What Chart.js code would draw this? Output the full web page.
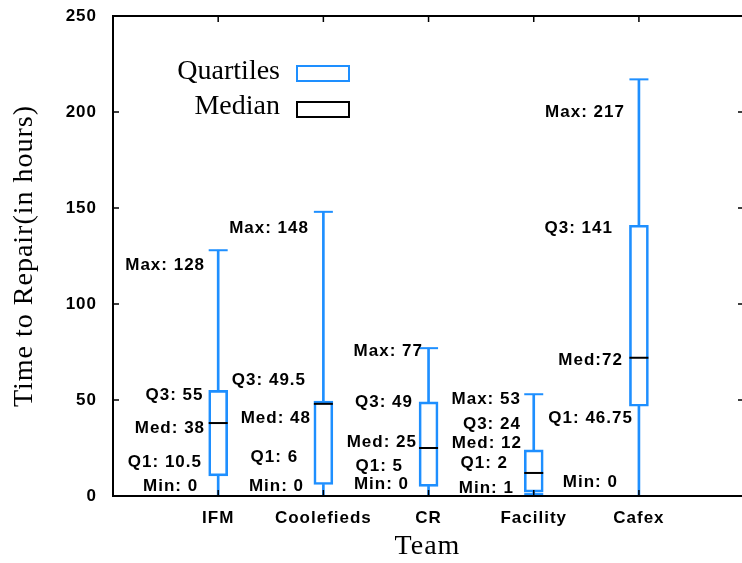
<!DOCTYPE html>
<html lang="en">
<head>
<meta charset="UTF-8">
<title>Time to Repair</title>
<style>
    body { margin: 0; background: #fff; }
    #box { width: 742px; height: 563px; }
</style>
</head>
<body>
<div id="box"><canvas id="myChart" width="742" height="563"></canvas></div>

<script src="https://cdn.jsdelivr.net/npm/chart.js"></script>
<script>
    // five-number summary per team (hours)
    const teams = ['IFM', 'Coolefieds', 'CR', 'Facility', 'Cafex'];
    const mins = [0, 0, 0, 1, 0];
    const q1s = [10.5, 6, 5, 2, 46.75];
    const medians = [38, 48, 25, 12, 72];
    const q3s = [55, 49.5, 49, 24, 141];
    const maxs = [128, 148, 77, 53, 217];
    const yTicks = [0, 50, 100, 150, 200, 250];

    // text notes, [text, x, y] in axis units (like gnuplot "set label at")
    const notes = [
        ['Max: 128', 0.875, 120.3], ['Q3: 55', 0.86, 52.3], ['Med: 38', 0.875, 35.4], ['Q1: 10.5', 0.846, 17.4], ['Min: 0', 0.81, 5.2],
        ['Max: 148', 1.863, 139.6], ['Q3: 49.5', 1.835, 60.4], ['Med: 48', 1.882, 40.6], ['Q1: 6', 1.76, 20.3], ['Min: 0', 1.816, 5.2],
        ['Max: 77', 2.947, 75.5], ['Q3: 49', 2.852, 49.0], ['Med: 25', 2.89, 28.1], ['Q1: 5', 2.757, 15.6], ['Min: 0', 2.814, 6.3],
        ['Max: 53', 3.878, 50.5], ['Q3: 24', 3.878, 37.5], ['Med: 12', 3.888, 27.6], ['Q1: 2', 3.755, 17.2], ['Min: 1', 3.812, 4.2],
        ['Max: 217', 4.867, 200], ['Q3: 141', 4.753, 139.6], ['Med:72', 4.848, 70.8], ['Q1: 46.75', 4.943, 40.6], ['Min: 0', 4.80, 7.3]
    ];

    const BLUE = '#1e8fff';
    const sansBold = { family: '"Liberation Sans", Arial, sans-serif', size: 17, weight: 'bold' };
    const serif = { family: '"Liberation Serif", "Times New Roman", serif', size: 28, weight: 'normal' };

    const boxData = teams.map((t, i) => ({ x: i + 1, y: [q1s[i], q3s[i]] }));
    const lowWhisker = teams.map((t, i) => ({ x: i + 1, y: [mins[i], q1s[i]] }));
    const highWhisker = teams.map((t, i) => ({ x: i + 1, y: [q3s[i], maxs[i]] }));
    const capData = teams.map((t, i) => ({ x: i + 1, y: maxs[i] }))
        .concat(teams.map((t, i) => ({ x: i + 1, y: mins[i] })));
    const medData = teams.map((t, i) => ({ x: i + 1, y: medians[i] }));

    // frame, inward ticks, notes and the key
    const gnuStyle = {
        id: 'gnuStyle',
        beforeDraw(chart) {
            chart.ctx.letterSpacing = '1px';
        },
        afterDatasetsDraw(chart) {
            const ctx = chart.ctx;
            const xs = chart.scales.x, ys = chart.scales.y;
            ctx.save();
            ctx.font = 'bold 17px "Liberation Sans", Arial, sans-serif';
            ctx.textAlign = 'right';
            ctx.textBaseline = 'middle';
            ctx.fillStyle = '#000';
            notes.forEach(n => {
                ctx.fillText(n[0], xs.getPixelForValue(n[1]), ys.getPixelForValue(n[2]));
            });
            ctx.restore();
        },
        afterDraw(chart) {
            const ctx = chart.ctx;
            const a = chart.chartArea;
            const xs = chart.scales.x, ys = chart.scales.y;
            ctx.save();
            ctx.strokeStyle = '#000';
            ctx.lineWidth = 2;
            ctx.beginPath();
            ctx.moveTo(a.right + 2, a.top);
            ctx.lineTo(a.left, a.top);
            ctx.lineTo(a.left, a.bottom);
            ctx.lineTo(a.right + 2, a.bottom);
            ctx.stroke();

            ctx.lineWidth = 1.5;
            ctx.beginPath();
            yTicks.forEach(v => {
                const py = ys.getPixelForValue(v);
                ctx.moveTo(a.left, py); ctx.lineTo(a.left + 6, py);
                ctx.moveTo(a.right, py); ctx.lineTo(a.right - 4, py);
            });
            teams.forEach((t, i) => {
                const px = xs.getPixelForValue(i + 1);
                ctx.moveTo(px, a.top); ctx.lineTo(px, a.top + 6);
                ctx.moveTo(px, a.bottom); ctx.lineTo(px, a.bottom - 6);
            });
            ctx.stroke();

            // key
            ctx.letterSpacing = '0px';
            ctx.font = '28px "Liberation Serif", "Times New Roman", serif';
            ctx.textAlign = 'right';
            ctx.textBaseline = 'middle';
            ctx.fillStyle = '#000';
            ctx.fillText('Quartiles', 280, 72);
            ctx.fillText('Median', 280, 107);
            ctx.lineWidth = 2;
            ctx.strokeStyle = BLUE;
            ctx.strokeRect(297, 66, 52, 15);
            ctx.strokeStyle = '#000';
            ctx.strokeRect(297, 102, 52, 15);
            ctx.restore();
        }
    };

    const config = {
        type: 'bar',
        data: {
            datasets: [
                {
                    type: 'scatter', label: 'Median', data: medData, order: 0,
                    pointStyle: 'line', pointRadius: 9.5, pointHoverRadius: 9.5,
                    pointBorderColor: '#000', pointBorderWidth: 2, showLine: false
                },
                {
                    type: 'scatter', label: 'Whisker bars', data: capData, order: 1,
                    pointStyle: 'line', pointRadius: 9.5, pointHoverRadius: 9.5,
                    pointBorderColor: BLUE, pointBorderWidth: 2, showLine: false
                },
                {
                    label: 'Quartiles', data: boxData, order: 2, grouped: false,
                    barThickness: 19, borderWidth: 2, borderSkipped: false,
                    borderColor: BLUE, backgroundColor: 'rgba(0,0,0,0)'
                },
                {
                    label: 'low', data: lowWhisker, order: 3, grouped: false,
                    barThickness: 2, borderWidth: 0, backgroundColor: BLUE
                },
                {
                    label: 'high', data: highWhisker, order: 3, grouped: false,
                    barThickness: 2, borderWidth: 0, backgroundColor: BLUE
                }
            ]
        },
        options: {
            responsive: false,
            animation: false,
            events: [],
            layout: { autoPadding: false, padding: { top: 16, right: 0, left: 0, bottom: 0 } },
            plugins: {
                legend: { display: false },
                tooltip: { enabled: false }
            },
            scales: {
                x: {
                    type: 'linear',
                    offset: false,
                    min: 0,
                    max: 5.98,
                    afterBuildTicks: s => { s.ticks = teams.map((t, i) => ({ value: i + 1 })); },
                    afterFit: s => { s.height = 67; s.paddingLeft = 0; s.paddingRight = 0; },
                    grid: { display: false, drawTicks: false },
                    border: { display: false },
                    ticks: {
                        autoSkip: false, maxRotation: 0, padding: 12,
                        color: '#000', font: sansBold,
                        callback: v => teams[v - 1]
                    },
                    title: { display: true, text: 'Team', color: '#000', font: serif, padding: 0 }
                },
                y: {
                    min: 0,
                    max: 250,
                    afterBuildTicks: s => { s.ticks = yTicks.map(v => ({ value: v })); },
                    afterFit: s => { s.width = 113; s.paddingTop = 0; s.paddingBottom = 0; },
                    grid: { display: false, drawTicks: false },
                    border: { display: false },
                    ticks: { padding: 16, color: '#000', font: sansBold },
                    title: {
                        display: true, text: 'Time to Repair(in hours)', color: '#000',
                        font: serif, padding: { top: 8, bottom: 0 }
                    }
                }
            }
        },
        plugins: [gnuStyle]
    };

    const myChart = new Chart(document.getElementById('myChart'), config);
</script>
</body>
</html>
